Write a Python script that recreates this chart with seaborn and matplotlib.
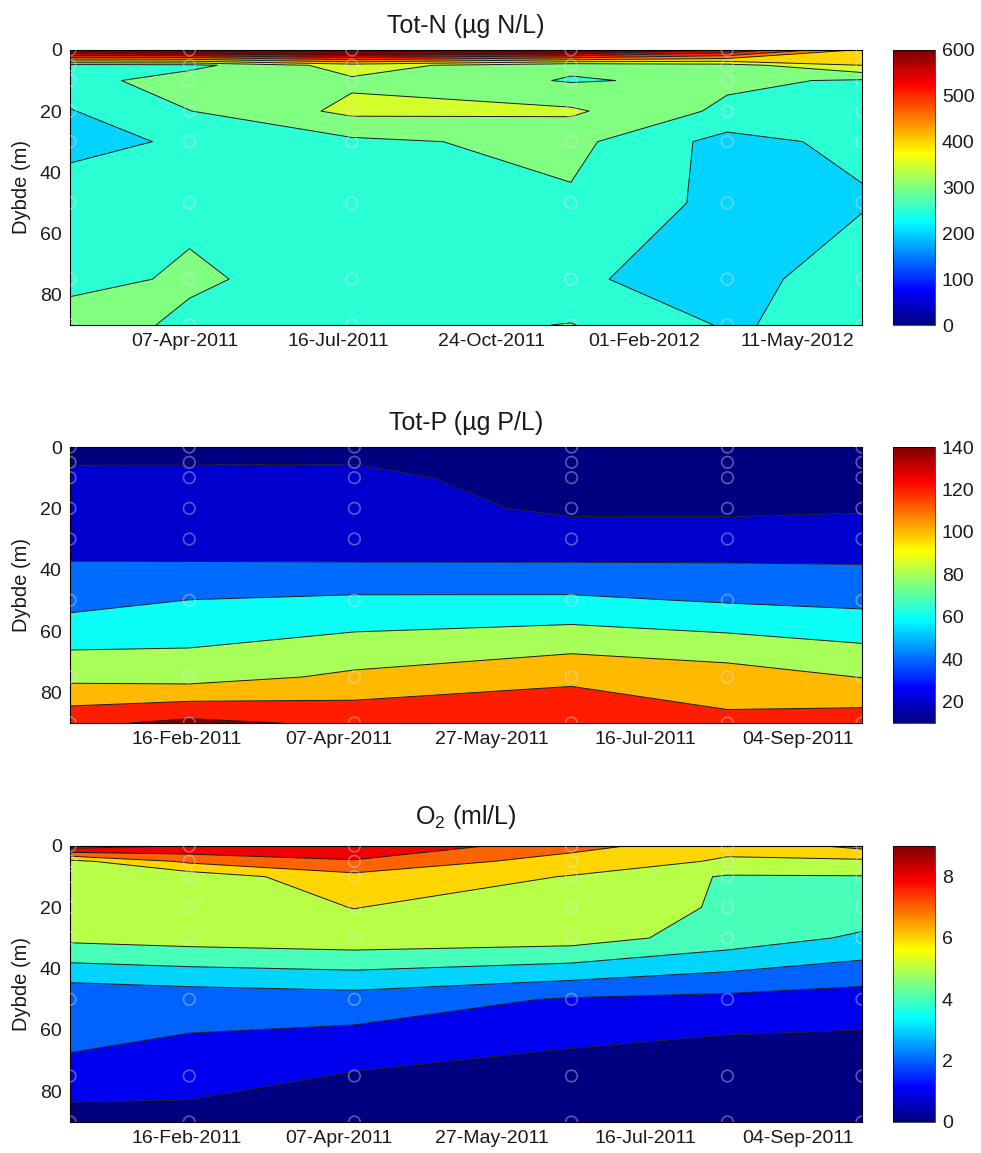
import numpy as np
import pandas as pd
import matplotlib
matplotlib.use("Agg")
import matplotlib.pyplot as plt
import matplotlib.dates as mdates
from matplotlib.colors import ListedColormap, Normalize
from matplotlib.cm import ScalarMappable
import seaborn as sns
from datetime import datetime

# ---------------- data ----------------
depths = [0, 5, 10, 20, 30, 50, 75, 90]

dates_totn = ["2011-01-22", "2011-04-10", "2011-07-25", "2011-12-15", "2012-03-26", "2012-06-22"]
# rows = depths, columns = dates
totn = [
    [700, 710, 720, 700, 600, 440],
    [280, 284.8, 373.4, 309.3, 330, 400],
    [278, 329, 341.8, 296, 310, 294],
    [247.2, 299, 362, 358, 289, 285],
    [238.9, 255, 290, 314, 232, 264],
    [270.6, 285, 275, 293, 235, 243.4],
    [277.7, 310, 269, 259.7, 220, 292],
    [336, 286, 280, 302, 245, 267.5],
]

dates_po = ["2011-01-09", "2011-02-17", "2011-04-12", "2011-06-22", "2011-08-12", "2011-09-25"]
totp = [
    [15, 14, 13, 11, 10, 10],
    [18, 18.5, 19.5, 12, 11, 11],
    [29, 27, 24, 13, 12, 12],
    [30, 28, 25, 17.9, 16.9, 18.3],
    [32.4, 28.3, 26, 25.7, 28.4, 29.4],
    [53.3, 60.3, 63.4, 63.5, 58.2, 55],
    [94.5, 92, 103.7, 115.9, 109.4, 99.5],
    [135, 145, 136, 136, 124.4, 130.25],
]
o2 = [
    [9.6, 8.9, 8.9, 7.4, 6.23, 7.3],
    [5.7, 7.2, 7.9, 6.5, 5.9, 5.8],
    [5.5, 5.4, 6.7, 5.95, 4.9, 4.95],
    [5.4, 5.5, 6.02, 5.5, 4.9, 4.6],
    [5.24, 5.43, 5.6, 5.45, 4.55, 3.84],
    [2.16, 2.37, 2.55, 1.9, 1.73, 1.51],
    [1.93, 1.53, 0.9, 0.49, 0.16, 0.235],
    [0.3, 0.51, 0.4, 0.3, 0.15, 0.2],
]

ticks_totn = ["07-Apr-2011", "16-Jul-2011", "24-Oct-2011", "01-Feb-2012", "11-May-2012"]
ticks_po = ["16-Feb-2011", "07-Apr-2011", "27-May-2011", "16-Jul-2011", "04-Sep-2011"]

levels_totn = list(range(0, 601, 50))
levels_totp = list(range(20, 141, 20))
levels_o2 = list(range(1, 10))
cticks_totn = [0, 100, 200, 300, 400, 500, 600]
cticks_totp = [20, 40, 60, 80, 100, 120, 140]
cticks_o2 = [0, 2, 4, 6, 8]
depth_ticks = [0, 20, 40, 60, 80]

# ---------------- style ----------------
sns.set_theme(style="ticks")
plt.rcParams["font.family"] = ["Liberation Sans", "DejaVu Sans"]
plt.rcParams["mathtext.default"] = "regular"
plt.rcParams["axes.edgecolor"] = "black"
plt.rcParams["text.color"] = "#1a1a1a"
plt.rcParams["axes.labelcolor"] = "#1a1a1a"
plt.rcParams["xtick.color"] = "black"
plt.rcParams["ytick.color"] = "black"
plt.rcParams["xtick.labelcolor"] = "#1a1a1a"
plt.rcParams["ytick.labelcolor"] = "#1a1a1a"


def mjet(x):
    x = np.asarray(x, float)
    r = np.clip(1.5 - np.abs(4 * x - 3), 0, 1)
    g = np.clip(1.5 - np.abs(4 * x - 2), 0, 1)
    b = np.clip(1.5 - np.abs(4 * x - 1), 0, 1)
    return np.stack([r, g, b], axis=-1)


jet_cmap = ListedColormap(mjet(np.linspace(0, 1, 256)))

fig = plt.figure(figsize=(9.81, 11.53), dpi=100)
W, H = 981.0, 1153.0


def rect(x0, y0, x1, y1):
    return [x0 / W, 1 - y1 / H, (x1 - x0) / W, (y1 - y0) / H]


def panel(ytop, ybot, dates, values, levels, vmin, vmax, cticks, title, xticks, tpad):
    ax = fig.add_axes(rect(70, ytop, 862, ybot))
    x = mdates.date2num(pd.to_datetime(dates).to_pydatetime())
    X, Y = np.meshgrid(x, depths)
    Z = np.array(values, float)
    lv = [-1e5] + list(levels) + [1e6]
    cols = [tuple(mjet(0))] + [tuple(mjet((l - vmin) / (vmax - vmin))) for l in levels]
    ax.contourf(X, Y, Z, levels=lv, colors=cols, antialiased=True)
    ax.contour(X, Y, Z, levels=levels, colors="k", linewidths=0.7)
    sns.scatterplot(x=X.ravel(), y=Y.ravel(), ax=ax, marker="o", s=70,
                    color="none", edgecolor=(0.9, 0.9, 0.95, 0.38),
                    linewidth=1.2, legend=False, clip_on=True, zorder=5)
    ax.set_xlim(x[0], x[-1])
    ax.set_ylim(90, 0)
    ax.set_yticks(depth_ticks)
    ax.set_yticklabels([str(d) for d in depth_ticks])
    tpos = mdates.date2num([datetime.strptime(s, "%d-%b-%Y") for s in xticks])
    ax.set_xticks(tpos)
    ax.set_xticklabels(xticks)
    ax.tick_params(direction="in", top=True, right=True, length=5, width=0.7,
                   labelsize=14, pad=6)
    for sp in ax.spines.values():
        sp.set_linewidth(0.8)
        sp.set_color("black")
    ax.set_ylabel("Dybde (m)", fontsize=14.5, labelpad=6)
    ax.set_title(title, fontsize=18, pad=tpad)

    cax = fig.add_axes(rect(893, ytop, 935, ybot))
    cb = fig.colorbar(ScalarMappable(norm=Normalize(vmin, vmax), cmap=jet_cmap),
                      cax=cax, ticks=cticks)
    cb.outline.set_linewidth(0.5)
    cax.tick_params(labelsize=14, length=0, pad=5)
    return ax


panel(50, 325, dates_totn, totn, levels_totn, 0, 600, cticks_totn,
      "Tot-N (µg N/L)", ticks_totn, 12)
panel(447, 723, dates_po, totp, levels_totp, 10, 140, cticks_totp,
      "Tot-P (µg P/L)", ticks_po, 12)
panel(846, 1122, dates_po, o2, levels_o2, 0, 9, cticks_o2,
      "O$_2$ (ml/L)", ticks_po, 16)

fig.savefig("out.png", dpi=100)
